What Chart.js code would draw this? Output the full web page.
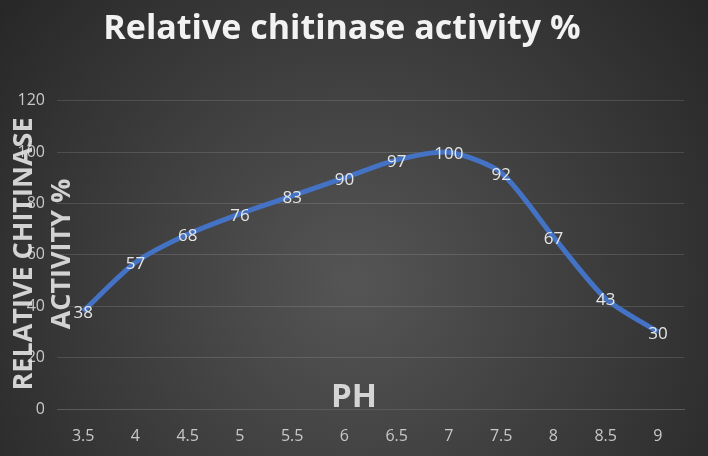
<!DOCTYPE html>
<html>
<head>
<meta charset="utf-8">
<script src="https://cdn.jsdelivr.net/npm/chart.js@4"></script>
<style>
  html, body { margin: 0; padding: 0; background: #2b2b2b; }
  #wrap { width: 708px; height: 456px; }
</style>
</head>
<body>
<div id="wrap"><canvas id="chart" width="708" height="456"></canvas></div>
<script>
const phLabels = ['3.5', '4', '4.5', '5', '5.5', '6', '6.5', '7', '7.5', '8', '8.5', '9'];
const activity = [38, 57, 68, 76, 83, 90, 97, 100, 92, 67, 43, 30];
const yTicks = [0, 20, 40, 60, 80, 100, 120];

const fontFam = "'Open Sans', 'Noto Sans', sans-serif";

// dark radial background like the office theme
const bgPlugin = {
    id: 'bg',
    beforeDraw(chart) {
        const c = chart.ctx;
        const w = chart.width, h = chart.height;
        const g = c.createRadialGradient(w / 2, h * 0.62, 10, w / 2, h * 0.62, w * 0.65);
        g.addColorStop(0, '#545454');
        g.addColorStop(1, '#262626');
        c.save();
        c.fillStyle = g;
        c.fillRect(0, 0, w, h);
        c.restore();
    }
};

// value labels centred on each point
const valueLabels = {
    id: 'valueLabels',
    afterDatasetsDraw(chart) {
        const c = chart.ctx;
        const meta = chart.getDatasetMeta(0);
        c.save();
        c.font = "17px " + fontFam;
        c.fillStyle = '#e6e6e6';
        c.textAlign = 'center';
        c.textBaseline = 'middle';
        meta.data.forEach(function(pt, i) {
            c.fillText(String(activity[i]), pt.x, pt.y + 2);
        });
        c.restore();
    }
};

// axis titles overlapping the plot, as in the original
const axisTitles = {
    id: 'axisTitles',
    afterDraw(chart) {
        const c = chart.ctx;
        c.save();
        c.fillStyle = 'rgba(225,225,225,0.92)';
        c.textAlign = 'center';
        c.textBaseline = 'middle';
        c.font = "bold 33px " + fontFam;
        c.fillText('PH', 354, 398);
        c.translate(24, 254);
        c.rotate(-Math.PI / 2);
        c.font = "bold 27px " + fontFam;
        c.fillText('RELATIVE CHITINASE', 0, 0);
        c.fillText('ACTIVITY %', 0, 38);
        c.restore();
    }
};

new Chart(document.getElementById('chart'), {
    type: 'line',
    data: {
        labels: phLabels,
        datasets: [{
            label: 'Relative chitinase activity %',
            data: activity,
            borderColor: '#4472C4',
            borderWidth: 5,
            tension: 0.25,
            pointRadius: 0,
            fill: false
        }]
    },
    options: {
        responsive: false,
        animation: false,
        layout: { padding: { left: 0, right: 24, top: 0, bottom: 0 } },
        plugins: {
            legend: { display: false },
            tooltip: { enabled: false },
            title: {
                display: true,
                text: 'Relative chitinase activity %',
                color: '#f2f2f2',
                font: { family: fontFam, size: 34, weight: 'bold', lineHeight: 1.2 },
                padding: { top: 9, bottom: 51 }
            }
        },
        scales: {
            x: {
                offset: true,
                grid: { display: false, drawTicks: false },
                border: { color: '#5a5a5a', width: 1 },
                ticks: {
                    color: '#c8c8c8',
                    padding: 18,
                    font: { family: fontFam, size: 16 }
                },
                afterFit(scale) { scale.height = 47; }
            },
            y: {
                min: 0,
                max: 120,
                afterBuildTicks(scale) {
                    scale.ticks = yTicks.map(v => ({ value: v }));
                },
                grid: { color: 'rgba(255,255,255,0.13)', drawTicks: false },
                border: { display: false },
                ticks: {
                    color: '#c8c8c8',
                    padding: 12,
                    font: { family: fontFam, size: 16 }
                },
                afterFit(scale) { scale.width = 57; }
            }
        }
    },
    plugins: [bgPlugin, valueLabels, axisTitles]
});
</script>
</body>
</html>
